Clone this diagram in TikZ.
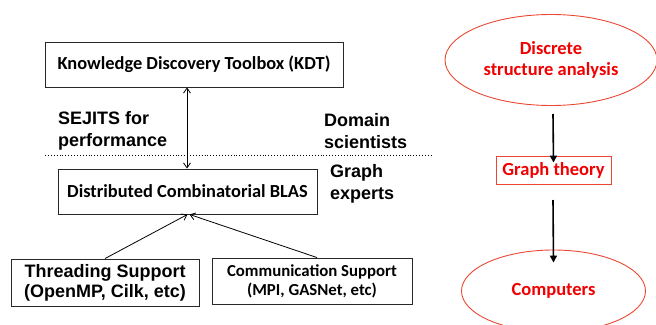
\documentclass[tikz,border=0pt]{standalone}
\usepackage{fontspec}
\setmainfont{Carlito}
\newfontfamily\arialf{Liberation Sans}
\usetikzlibrary{arrows.meta,shapes.geometric}
\definecolor{boxline}{RGB}{40,40,40}
\definecolor{redtxt}{RGB}{240,0,0}
\definecolor{redline}{RGB}{235,70,50}
\tikzset{
  box/.style={draw=boxline, line width=0.9pt, inner sep=0pt, align=center, font=\bfseries\fontsize{18.4}{20}\selectfont},
  lbl/.style={inner sep=0pt, anchor=west, align=left, font=\arialf\bfseries\fontsize{18}{22}\selectfont},
  redbox/.style={draw=redline, line width=0.9pt, inner sep=0pt, text=redtxt, font=\bfseries\fontsize{18.5}{21}\selectfont, align=center},
  redell/.style={draw=redline, line width=0.9pt, ellipse, inner sep=0pt, text=redtxt, font=\bfseries\fontsize{18.5}{21}\selectfont, align=center},
  thin/.style={line width=0.8pt, -{Straight Barb[length=5pt,width=7pt]}},
  thick/.style={line width=1.6pt, -{Triangle[length=7pt,width=7pt]}}
}
\begin{document}
\begin{tikzpicture}[x=1pt,y=-1pt]
\useasboundingbox (0,0) rectangle (656,324);
\clip (0,0) rectangle (656,324);
% left part
\node[box, minimum width=298pt, minimum height=45pt] (kdt) at (194,64.5) {Knowledge Discovery Toolbox (KDT)};
\node[box, minimum width=259pt, minimum height=45pt] (dcb) at (187.5,191.5) {Distributed Combinatorial BLAS};
\node[box, minimum width=188pt, minimum height=47pt, font=\arialf\bfseries\fontsize{18}{20}\selectfont] (thr) at (105,282.5) {Threading Support\\(OpenMP, Cilk, etc)};
\node[box, minimum width=200pt, minimum height=46pt, font=\bfseries\fontsize{16.8}{19}\selectfont] (com) at (312,281) {Communication Support\\(MPI, GASNet, etc)};
\node[lbl] (sej) at (58,131) {SEJITS for\\performance};
\node[lbl] (dom) at (324,131) {Domain\\scientists};
\node[lbl] (gex) at (330,184) {Graph\\experts};
\coordinate (dl) at (45,155);
\coordinate (dr) at (433,155);
\draw[line width=0.9pt, dotted] (dl) -- (dr);
\draw[line width=0.8pt, {Straight Barb[length=5pt,width=7pt]}-{Straight Barb[length=5pt,width=7pt]}] (kdt.south -| 187,0) -- (dcb.north -| 187,0);
\draw[thin] (thr.north) -- (dcb.south);
\draw[thin] ([xshift=5pt]com.north) -- ([xshift=2pt]dcb.south);
% right part
\node[redell, minimum width=212pt, minimum height=91pt] (dsa) at (551,60) {Discrete\\structure analysis};
\node[redbox, minimum width=115pt, minimum height=28pt] (gt) at (553.5,170) {Graph theory};
\node[redell, minimum width=184pt, minimum height=82pt] (cmp) at (553.5,291) {Computers};
\coordinate (a1s) at (553,114);
\coordinate (a2s) at (553,200);
\draw[thick] (a1s) -- ([yshift=-7pt]gt.north);
\draw[thick] (a2s) -- ([yshift=-13pt]cmp.north);
\end{tikzpicture}
\end{document}
